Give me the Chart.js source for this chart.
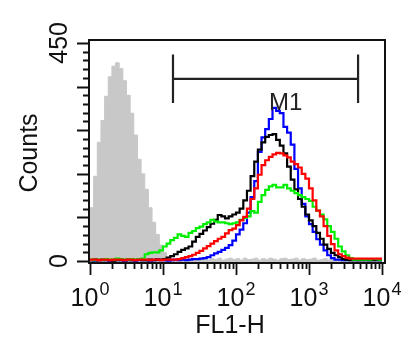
<!DOCTYPE html>
<html><head><meta charset="utf-8">
<script src="https://cdn.jsdelivr.net/npm/chart.js@4.4.1/dist/chart.umd.min.js"></script>
<style>html,body{margin:0;padding:0;background:#fff;}canvas{display:block;}</style>
</head><body>
<canvas id="c" width="406" height="350"></canvas>
<script>
// Histogram binning on log10(FL1-H): 80 bins of 0.05 decade from 10^0 to 10^4
const binStartLog = 0;
const binWidthLog = 0.05;

// X ticks (decades) and Y ticks
const xTickValues = [1, 10, 100, 1000, 10000];
const xTickExponents = ['0', '1', '2', '3', '4'];
const yTickValues = [0, 450];
const yTickLabels = ['0', '450'];
const yMajorStep = 90;
const yMinorStep = 18;

// Series (counts per bin)
const isotype = [110,175,245,290,340,380,402,409,397,372,342,305,260,210,180,148,110,80,55,33,
  18,9,5,3,4,2,5,3,2,4,6,3,2,5,3,6,2,4,6,3,
  5,2,6,3,4,6,2,5,3,6,4,2,5,6,3,4,6,2,5,3,
  4,6,2,3,5,2,3,1,2,1,0,0,0,0,0,0,0,0,0,0];
const blue = [2,1,2,3,2,1,2,2,3,1,2,2,1,3,2,2,1,2,3,2,2,1,2,3,2,
  3,2,3,4,4,5,6,8,12,16,19,23,27,33,42,55,65,78,100,132,
  165,225,255,272,293,316,310,305,277,265,240,190,150,118,92,
  76,60,45,34,22,12,6,3,3,2,2,3,2,2,3,2,2,3,2,2];
const black = [2,3,2,2,3,2,1,3,2,2,3,2,2,3,2,2,3,2,3,3,
  4,7,10,14,19,23,26,30,40,50,56,63,70,77,85,95,92,88,92,96,
  100,108,125,145,175,205,230,245,256,260,262,250,238,222,195,168,148,128,112,96,
  84,72,58,46,34,25,17,12,8,4,3,2,3,2,2,3,2,2,3,2];
const red = [3,3,2,3,3,2,3,3,3,2,3,3,2,3,3,3,2,3,3,2,3,3,3,3,4,
  6,8,10,13,17,21,26,31,36,41,46,50,57,64,67,74,84,91,108,128,
  150,178,198,208,215,220,223,222,218,214,205,200,193,180,170,
  150,125,104,92,72,52,35,22,14,10,7,5,5,5,5,5,5,5,5,5];
const green = [3,2,3,3,4,3,3,5,4,3,3,4,3,4,
  5,14,17,18,18,22,30,36,43,48,55,52,50,58,62,68,71,76,80,85,
  82,80,80,78,76,78,80,85,89,92,103,100,122,136,147,154,157,152,152,157,
  150,145,140,136,132,128,124,112,104,96,86,72,60,46,30,20,12,6,3,3,
  3,3,3,4,4,3];

// Marker gate M1
const gateLow = 13.7;
const gateHigh = 4700;
const gateLevel = 376;
const gateHalf = 50;
const gateLabel = 'M1';
const gateLabelX = 480;
const gateLabelY = 312;

function toPoints(arr) {
  const pts = arr.map((v, k) => ({x: Math.pow(10, binStartLog + binWidthLog * k), y: v}));
  pts.push({x: Math.pow(10, binStartLog + binWidthLog * arr.length), y: arr[arr.length - 1]});
  return pts;
}

const FONT = '"Liberation Sans", Arial, Helvetica, sans-serif';

const axesPlugin = {
  id: 'facsAxes',
  afterDatasetsDraw(chart) {
    const {ctx, chartArea: a, scales: {x, y}} = chart;
    ctx.save();
    ctx.strokeStyle = '#111';
    ctx.fillStyle = '#111';
    // frame
    ctx.lineWidth = 2;
    ctx.strokeRect(a.left, a.top, a.right - a.left, a.bottom - a.top);
    // x ticks (log)
    ctx.lineWidth = 1.8;
    ctx.beginPath();
    for (let d = 0; d < 4; d++) {
      for (let m = 1; m <= 9; m++) {
        const px = Math.round(x.getPixelForValue(m * Math.pow(10, d))) + 0.5;
        const len = m === 1 ? 12 : 6;
        ctx.moveTo(px, a.bottom); ctx.lineTo(px, a.bottom + len);
      }
    }
    const pxEnd = Math.round(x.getPixelForValue(10000)) + 0.5;
    ctx.moveTo(pxEnd, a.bottom); ctx.lineTo(pxEnd, a.bottom + 12);
    // y ticks
    for (let v = 0; v <= 450; v += yMinorStep) {
      const py = Math.round(y.getPixelForValue(v)) + 0.5;
      const len = v % yMajorStep === 0 ? 12 : 6;
      ctx.moveTo(a.left, py); ctx.lineTo(a.left - len, py);
    }
    ctx.stroke();
    // x tick labels 10^n
    ctx.textBaseline = 'alphabetic';
    ctx.textAlign = 'left';
    xTickValues.forEach((v, i) => {
      const px = x.getPixelForValue(v);
      ctx.font = '25px ' + FONT;
      const wBase = ctx.measureText('10').width;
      ctx.font = '18px ' + FONT;
      const wExp = ctx.measureText(xTickExponents[i]).width;
      const start = px - (wBase + 1 + wExp) / 2;
      ctx.font = '25px ' + FONT;
      ctx.fillText('10', start, 306);
      ctx.font = '18px ' + FONT;
      ctx.fillText(xTickExponents[i], start + wBase + 1, 295);
    });
    // y tick labels (rotated)
    ctx.font = '25px ' + FONT;
    ctx.textAlign = 'center';
    yTickValues.forEach((v, i) => {
      const py = y.getPixelForValue(v);
      ctx.save();
      ctx.translate(67, py);
      ctx.rotate(-Math.PI / 2);
      ctx.fillText(yTickLabels[i], 0, 0);
      ctx.restore();
    });
    // axis titles
    ctx.save();
    ctx.translate(37, 153);
    ctx.rotate(-Math.PI / 2);
    ctx.fillText('Counts', 0, 0);
    ctx.restore();
    ctx.fillText('FL1-H', 230, 333);
    // gate M1
    const gx1 = x.getPixelForValue(gateLow), gx2 = x.getPixelForValue(gateHigh);
    const gy = y.getPixelForValue(gateLevel);
    const gyTop = y.getPixelForValue(gateLevel + gateHalf), gyBot = y.getPixelForValue(gateLevel - gateHalf);
    ctx.strokeStyle = '#222';
    ctx.lineWidth = 2.2;
    ctx.beginPath();
    ctx.moveTo(gx1, gy); ctx.lineTo(gx2, gy);
    ctx.moveTo(gx1, gyTop); ctx.lineTo(gx1, gyBot);
    ctx.moveTo(gx2, gyTop); ctx.lineTo(gx2, gyBot);
    ctx.stroke();
    ctx.fillStyle = '#222';
    ctx.font = '24px ' + FONT;
    ctx.fillText(gateLabel, x.getPixelForValue(gateLabelX), y.getPixelForValue(gateLabelY));
    ctx.restore();
  }
};

const lineDs = (label, arr, color) => ({
  label, data: toPoints(arr), borderColor: color, borderWidth: 2.2,
  stepped: true, pointRadius: 0, fill: false, tension: 0
});

new Chart(document.getElementById('c'), {
  type: 'line',
  data: {
    datasets: [
      lineDs('red', red, '#ff0000'),
      lineDs('green', green, '#00ee00'),
      lineDs('black', black, '#000000'),
      lineDs('blue', blue, '#0000ff'),
      {label: 'isotype', data: toPoints(isotype), borderColor: '#c8c8c8', borderWidth: 1,
       backgroundColor: '#c8c8c8', fill: 'start', stepped: true, pointRadius: 0, tension: 0}
    ]
  },
  options: {
    responsive: false,
    animation: false,
    devicePixelRatio: 1,
    events: [],
    layout: {padding: {left: 89, right: 21, top: 40, bottom: 87}},
    plugins: {legend: {display: false}, tooltip: {enabled: false}},
    scales: {
      x: {type: 'logarithmic', min: 0.9689, max: 10991, display: false},
      y: {type: 'linear', min: -4, max: 456, display: false}
    }
  },
  plugins: [axesPlugin]
});
</script>
</body></html>
